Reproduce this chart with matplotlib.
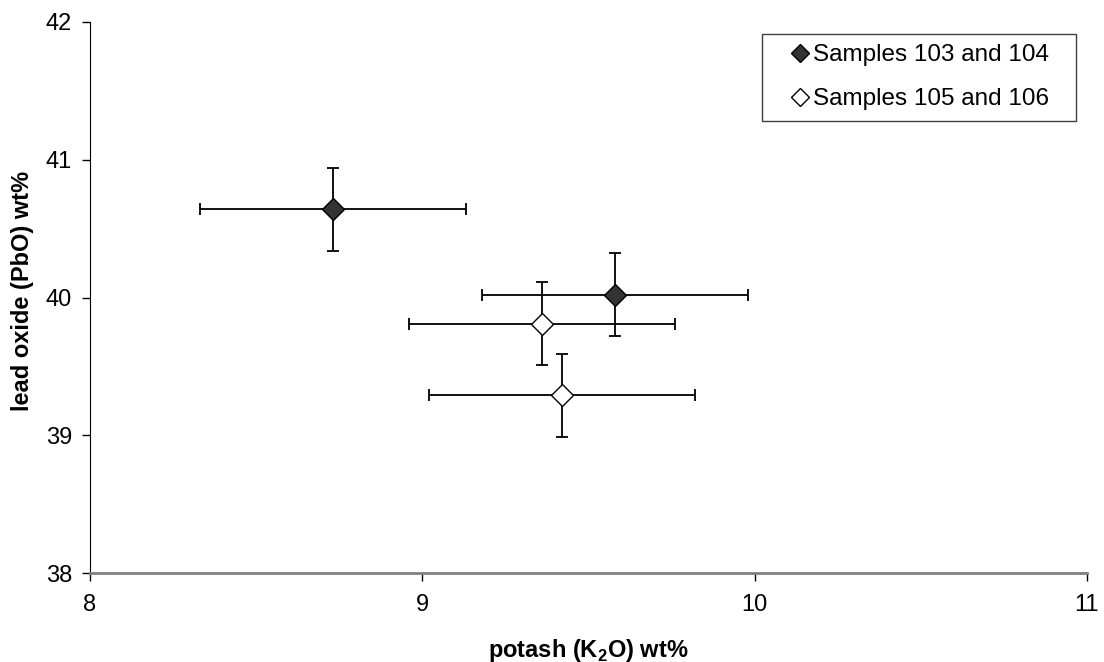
import matplotlib
matplotlib.use("Agg")
import matplotlib.pyplot as plt

plt.rcParams['font.family'] = ['Liberation Sans', 'DejaVu Sans']
plt.rcParams['mathtext.fontset'] = 'custom'
plt.rcParams['mathtext.rm'] = 'Liberation Sans'
plt.rcParams['mathtext.bf'] = 'Liberation Sans:bold'

# Data
dark_label = "Samples 103 and 104"
dark_x = [8.73, 9.58]
dark_y = [40.64, 40.02]
open_label = "Samples 105 and 106"
open_x = [9.36, 9.42]
open_y = [39.81, 39.29]
x_err = 0.4
y_err = 0.3
x_ticks = [8, 9, 10, 11]
y_ticks = [38, 39, 40, 41, 42]

W, H = 1104, 662
fig = plt.figure(figsize=(W / 100, H / 100), dpi=100)
ax = fig.add_axes([90 / W, 89 / H, 997 / W, 551 / H])

eb_kw = dict(fmt='none', ecolor='black', elinewidth=1.3, capsize=4, capthick=1.3, zorder=2)
ax.errorbar(dark_x, dark_y, xerr=x_err, yerr=y_err, **eb_kw)
ax.errorbar(open_x, open_y, xerr=x_err, yerr=y_err, **eb_kw)
ax.plot(dark_x, dark_y, linestyle='none', marker='D', markersize=11.5,
        markerfacecolor='#333333', markeredgecolor='black', markeredgewidth=1.0,
        label=dark_label, zorder=3)
ax.plot(open_x, open_y, linestyle='none', marker='D', markersize=11.5,
        markerfacecolor='white', markeredgecolor='black', markeredgewidth=1.0,
        label=open_label, zorder=3)

ax.set_xlim(8, 11)
ax.set_ylim(38, 42)
ax.set_xticks(x_ticks)
ax.set_yticks(y_ticks)
ax.set_xticklabels([str(t) for t in x_ticks])
ax.set_yticklabels([str(t) for t in y_ticks])
ax.tick_params(direction='out', length=6, width=1, labelsize=17)
ax.tick_params(axis='x', pad=9)
ax.tick_params(axis='y', pad=7)
for s in ['top', 'right']:
    ax.spines[s].set_visible(False)
ax.spines['left'].set_color('black')
ax.spines['bottom'].set_color('#808080')
ax.spines['bottom'].set_linewidth(2)

ax.set_xlabel(r'potash (K$_\mathbf{2}$O) wt%', fontsize=17, fontweight='bold', labelpad=15)
ax.set_ylabel('lead oxide (PbO) wt%', fontsize=17, fontweight='bold')
ax.yaxis.set_label_coords(-0.056, 0.512)

leg = fig.legend(loc='upper left',
                 bbox_to_anchor=(762 / W, 1 - 34 / H, (1076 - 762) / W, 0),
                 mode='expand', fontsize=17.5,
                 frameon=True, fancybox=False, edgecolor='#404040', framealpha=1,
                 markerscale=0.8, handlelength=2.26, handletextpad=-0.6,
                 borderpad=0.43, labelspacing=0.9, borderaxespad=0)
leg.get_frame().set_linewidth(1.0)

fig.savefig('out.png', dpi=100)
